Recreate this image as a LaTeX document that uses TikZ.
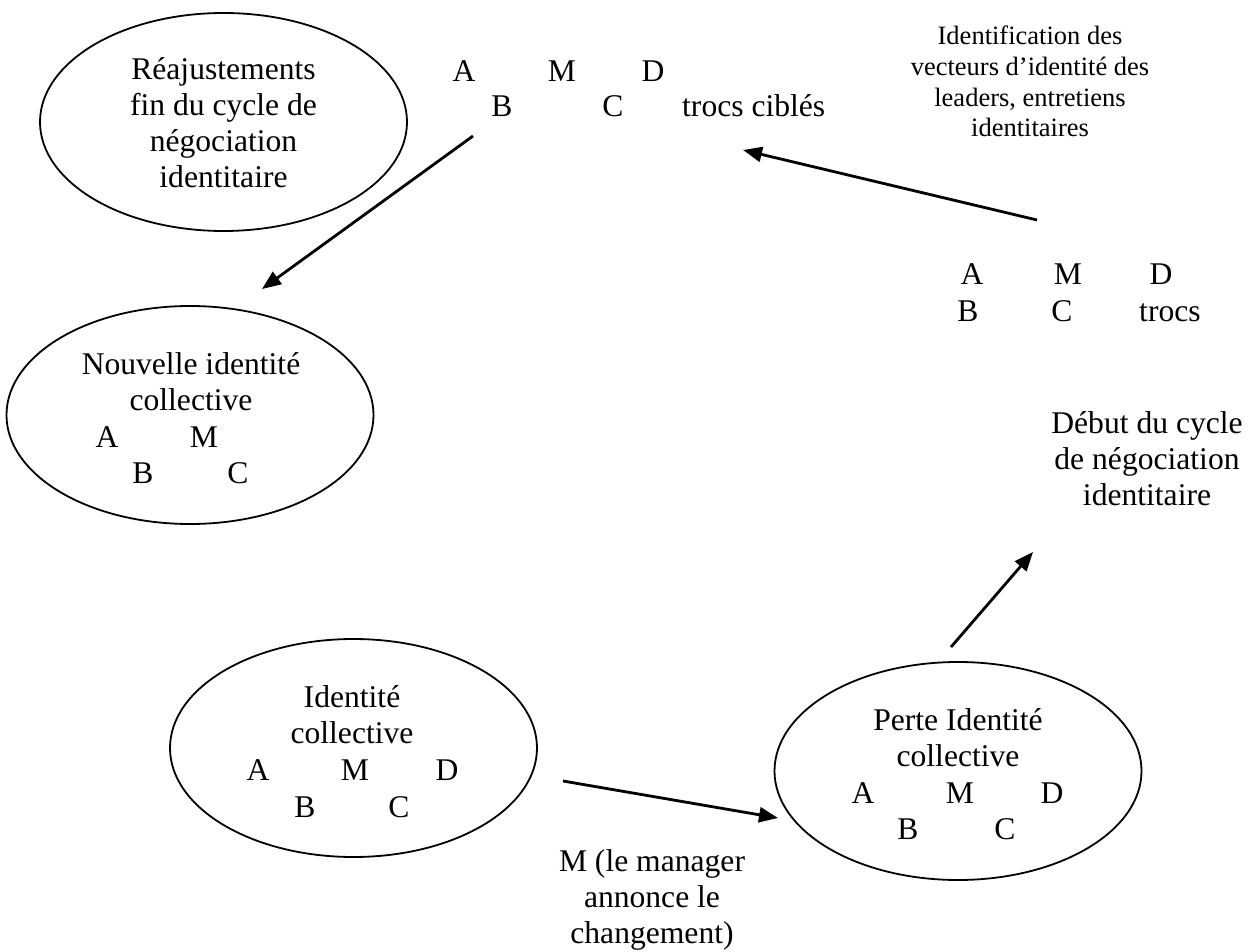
\documentclass[tikz,border=0pt]{standalone}
\usepackage{fontspec}
\setmainfont{Liberation Serif}
\usetikzlibrary{shapes.geometric,arrows.meta}

\tikzstyle{bulle} = [draw=black, line width=1.8pt, ellipse,
    minimum width=367pt, minimum height=218pt, inner sep=0pt]
\tikzstyle{texte} = [align=center, anchor=base, inner sep=0pt,
    font=\fontsize{31.6}{36}\selectfont]
\tikzstyle{petit} = [texte, font=\fontsize{26.5}{30.7}\selectfont]
\tikzstyle{fleche} = [line width=2.8pt, -{Triangle[length=19pt,width=15pt]}]

\begin{document}
\begin{tikzpicture}[x=1pt, y=-1pt]
    \useasboundingbox (0,0) rectangle (1255,952);

    % les quatre bulles
    \node [bulle] (reajust) at (223.5,122) {};
    \node [bulle] (nouvelle) at (190,415) {};
    \node [bulle] (identite) at (353.5,748) {};
    \node [bulle] (perte) at (958,771) {};

    % textes dans les bulles (base = derniere ligne)
    \node [texte] (treajust) at (223.5,188) {Réajustements\\fin du cycle de\\négociation\\identitaire};
    \node [texte] (tnouvelle) at (191,410) {Nouvelle identité\\collective};
    \foreach \l/\x in {A/107, M/204} \node [texte] (n\l) at (\x,447) {\l};
    \foreach \l/\x in {B/143, C/238} \node [texte] (n\l) at (\x,483) {\l};
    \node [texte] (tidentite) at (352,743) {Identité\\collective};
    \foreach \l/\x in {A/258, M/355, D/447} \node [texte] (i\l) at (\x,780) {\l};
    \foreach \l/\x in {B/305, C/399} \node [texte] (i\l) at (\x,817) {\l};
    \node [texte] (tperte) at (958,766) {Perte Identité\\collective};
    \foreach \l/\x in {A/863, M/960, D/1052} \node [texte] (p\l) at (\x,803) {\l};
    \foreach \l/\x in {B/908, C/1005} \node [texte] (p\l) at (\x,839) {\l};

    % acteurs et trocs
    \foreach \l/\x in {A/464, M/562, D/653} \node [texte] (c\l) at (\x,82) {\l};
    \foreach \l/\x in {B/502, C/613} \node [texte] (c\l) at (\x,117) {\l};
    \node [texte, anchor=base west] (cibles) at (682,117) {trocs ciblés};
    \foreach \l/\x in {A/972, M/1068, D/1161} \node [texte] (t\l) at (\x,284) {\l};
    \foreach \l/\x in {B/968, C/1062} \node [texte] (t\l) at (\x,321) {\l};
    \node [texte, anchor=base west] (trocs) at (1139,321) {trocs};

    % commentaires
    \node [petit] (vecteurs) at (1030,137) {Identification des\\vecteurs d’identité des\\leaders, entretiens\\identitaires};
    \node [texte] (debut) at (1147,505) {Début du cycle\\de négociation\\identitaire};
    \node [texte] (manager) at (652,943) {M (le manager\\annonce le\\changement)};

    % fleches
    \coordinate (d1) at (473,136);  \coordinate (f1) at (262,289);
    \coordinate (d2) at (1037,220); \coordinate (f2) at (743,150);
    \coordinate (d3) at (951,647);  \coordinate (f3) at (1033,552);
    \coordinate (d4) at (563,781);  \coordinate (f4) at (778,818);
    \draw [fleche] (d1) -- (f1);
    \draw [fleche] (d2) -- (f2);
    \draw [fleche] (d3) -- (f3);
    \draw [fleche] (d4) -- (f4);
\end{tikzpicture}
\end{document}
